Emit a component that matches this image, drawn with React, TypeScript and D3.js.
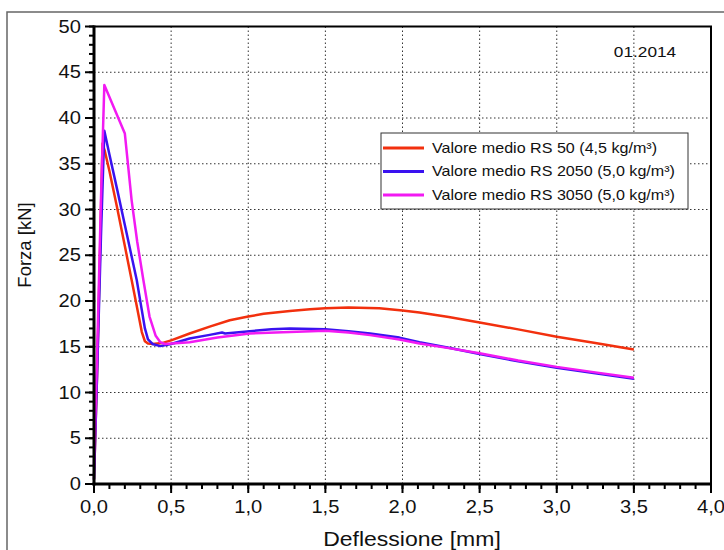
import React from 'react';
import * as d3 from 'd3';

const width = 724;
const height = 550;
const margin = { left: 94, right: 13, top: 26.5, bottom: 66 };

// Deflessione [mm] / Forza [kN]
const xRS50 = [0, 0.02, 0.04, 0.055, 0.07, 0.1, 0.15, 0.2, 0.244, 0.28, 0.31, 0.33, 0.35, 0.38, 0.44, 0.5, 0.62, 0.75, 0.88, 1.0, 1.1, 1.27, 1.4, 1.5, 1.65, 1.85, 2.0, 2.11, 2.3, 2.5, 2.75, 3.0, 3.25, 3.5];
const yRS50 = [0.5, 12, 26, 37.2, 36.4, 34.2, 30.2, 26, 22.3, 19.2, 16.6, 15.6, 15.35, 15.3, 15.4, 15.7, 16.45, 17.2, 17.9, 18.3, 18.6, 18.9, 19.1, 19.2, 19.3, 19.2, 18.95, 18.75, 18.25, 17.65, 16.9, 16.1, 15.4, 14.7];

const xRS2050 = [0, 0.02, 0.045, 0.067, 0.1, 0.15, 0.2, 0.25, 0.277, 0.31, 0.33, 0.35, 0.38, 0.43, 0.5, 0.62, 0.75, 0.83, 0.85, 1.01, 1.15, 1.27, 1.5, 1.65, 1.79, 1.98, 2.11, 2.3, 2.5, 2.75, 3.0, 3.25, 3.5];
const yRS2050 = [0.5, 12, 27, 38.6, 36, 32.2, 28.3, 24.4, 22.3, 19, 17, 15.8, 15.3, 15.07, 15.3, 15.9, 16.3, 16.55, 16.45, 16.7, 16.9, 17.0, 16.9, 16.7, 16.45, 16.0, 15.5, 14.9, 14.2, 13.4, 12.7, 12.1, 11.5];

const xRS3050 = [0, 0.02, 0.045, 0.067, 0.2, 0.244, 0.28, 0.32, 0.36, 0.4, 0.43, 0.46, 0.62, 0.8, 1.01, 1.27, 1.5, 1.65, 1.79, 1.98, 2.11, 2.3, 2.5, 2.75, 3.0, 3.25, 3.5];
const yRS3050 = [1.9, 14, 31, 43.6, 38.3, 31, 26.5, 22.3, 18.3, 16.2, 15.5, 15.3, 15.5, 16.0, 16.45, 16.6, 16.75, 16.55, 16.27, 15.8, 15.35, 14.85, 14.3, 13.5, 12.8, 12.2, 11.6];

const seriesNames = [
  'Valore medio RS 50 (4,5 kg/m³)',
  'Valore medio RS 2050 (5,0 kg/m³)',
  'Valore medio RS 3050 (5,0 kg/m³)',
];
const seriesColors = ['#f2300e', '#3a12f0', '#f21af2'];

const xTicks = [0, 0.5, 1, 1.5, 2, 2.5, 3, 3.5, 4];
const yTicks = [0, 5, 10, 15, 20, 25, 30, 35, 40, 45, 50];
const xMinorTicks = d3.range(0, 4.001, 0.1);
const yMinorTicks = d3.range(0, 50.001, 1);

const xLabel = 'Deflessione [mm]';
const yLabel = 'Forza [kN]';
const dateLabel = '01.2014';

const font = '"Liberation Sans", Arial, sans-serif';
// the original export is a little stretched sideways
const stretch = 1.15;

function SText({ x, y, size, anchor = 'start', dy = '0', children }: any) {
  return (
    <g transform={`translate(${x},${y}) scale(${stretch},1)`}>
      <text textAnchor={anchor} dy={dy} fontSize={size} fill="#111">{children}</text>
    </g>
  );
}

export default function App() {
  const x = d3.scaleLinear().domain([0, 4]).range([margin.left, width - margin.right]);
  const y = d3.scaleLinear().domain([0, 50]).range([height - margin.bottom, margin.top]);

  const series = [
    xRS50.map((d, i) => [d, yRS50[i]]),
    xRS2050.map((d, i) => [d, yRS2050[i]]),
    xRS3050.map((d, i) => [d, yRS3050[i]]),
  ];

  const line = d3.line<number[]>()
    .x(d => x(d[0]))
    .y(d => y(d[1]));

  const x0 = x(0), x1 = x(4), y0 = y(0), y1 = y(50);
  const fmt = (v: number) => d3.format('.1f')(v).replace('.', ',');

  // legend box
  const lg = { x: 381, y: 133, w: 307, h: 76 };

  return (
    <svg width={width} height={height} style={{ position: 'absolute', left: 0, top: 0 }} fontFamily={font}>
      <rect width={width} height={height} fill="#fff" />
      {/* outer frame */}
      <path d={`M7,${height} V12 H${width}`} fill="none" stroke="#666" strokeWidth="1.5" />

      {/* grid */}
      {xTicks.slice(1, -1).map(t => (
        <line key={'gx' + t} x1={x(t)} x2={x(t)} y1={y1} y2={y0} stroke="#333" strokeWidth="1" strokeDasharray="1.5,2.5" />
      ))}
      {yTicks.slice(1, -1).map(t => (
        <line key={'gy' + t} x1={x0} x2={x1} y1={y(t)} y2={y(t)} stroke="#333" strokeWidth="1" strokeDasharray="1.5,2.5" />
      ))}

      {/* curves */}
      {series.map((s, i) => (
        <path key={i} d={line(s) || ''} fill="none" stroke={seriesColors[i]} strokeWidth="2.5" strokeLinejoin="round" />
      ))}

      {/* frame */}
      <path d={`M${x0},${y1} H${x1} V${y0}`} fill="none" stroke="#000" strokeWidth="2" />
      <line x1={x0} x2={x0} y1={y1 - 1} y2={y0 + 1.5} stroke="#000" strokeWidth="3" />
      <line x1={x0 - 1.5} x2={x1 + 1} y1={y0} y2={y0} stroke="#000" strokeWidth="3" />

      {/* ticks */}
      {yMinorTicks.map(t => (
        <line key={'my' + t} x1={x0 - 5} x2={x0} y1={y(t)} y2={y(t)} stroke="#000" strokeWidth="2" />
      ))}
      {yTicks.map(t => (
        <g key={'ty' + t}>
          <line x1={x0 - 9} x2={x0} y1={y(t)} y2={y(t)} stroke="#000" strokeWidth="2" />
          <SText x={x0 - 13} y={y(t)} dy="0.35em" anchor="end" size={17.5}>{t}</SText>
        </g>
      ))}
      {xMinorTicks.map(t => (
        <line key={'mx' + t} x1={x(t)} x2={x(t)} y1={y0} y2={y0 + 5} stroke="#000" strokeWidth="2" />
      ))}
      {xTicks.map(t => (
        <g key={'tx' + t}>
          <line x1={x(t)} x2={x(t)} y1={y0} y2={y0 + 9} stroke="#000" strokeWidth="2" />
          <SText x={x(t)} y={y0 + 29} anchor="middle" size={17.5}>{fmt(t)}</SText>
        </g>
      ))}

      {/* axis titles */}
      <SText x={412} y={546} anchor="middle" size={20}>{xLabel}</SText>
      <text transform={`translate(31,245) rotate(-90)`} textAnchor="middle" fontSize="18.5" fill="#111">{yLabel}</text>

      <SText x={645} y={57} anchor="middle" size={15}>{dateLabel}</SText>

      {/* legend */}
      <rect x={lg.x} y={lg.y} width={lg.w} height={lg.h} fill="#fff" stroke="#333" strokeWidth="1" />
      {seriesNames.map((n, i) => (
        <g key={n}>
          <line x1={lg.x + 2} x2={lg.x + 43} y1={lg.y + 15 + i * 23.5} y2={lg.y + 15 + i * 23.5} stroke={seriesColors[i]} strokeWidth="3" />
          <SText x={lg.x + 51} y={lg.y + 15 + i * 23.5} dy="0.35em" size={14}>{n}</SText>
        </g>
      ))}
    </svg>
  );
}
